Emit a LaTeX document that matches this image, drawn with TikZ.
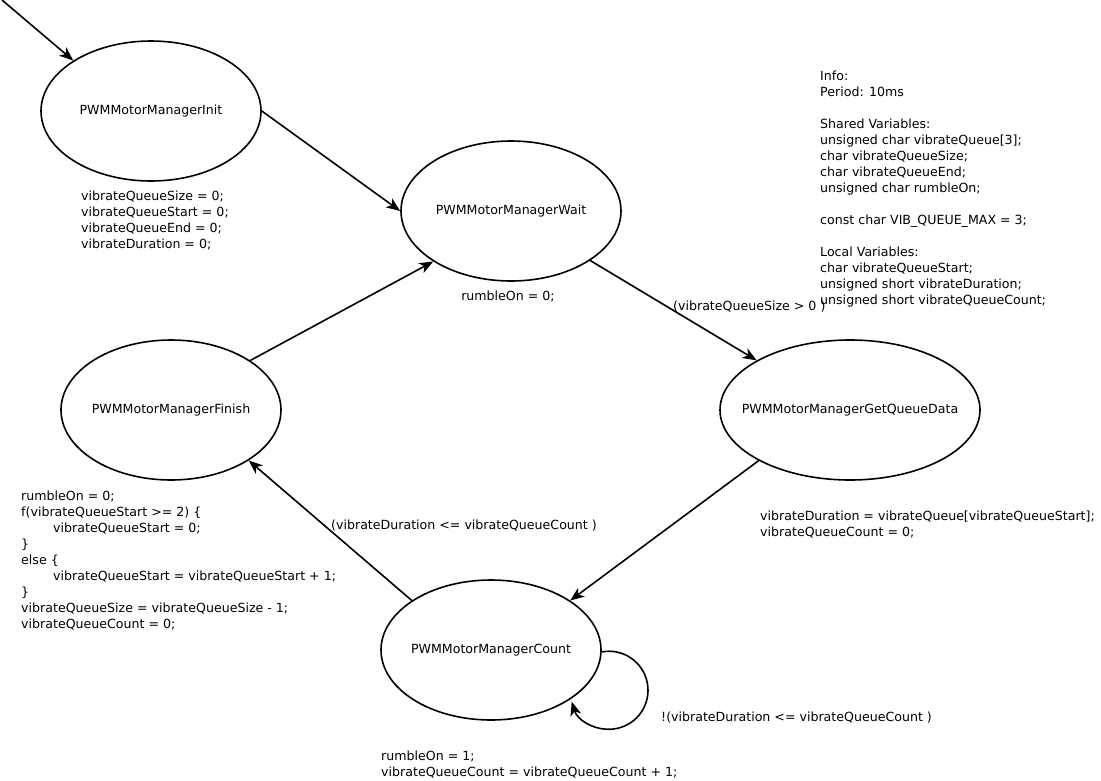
\documentclass[tikz,border=0pt]{standalone}
\usepackage{fontspec}
\setmainfont{DejaVu Sans}
\usetikzlibrary{arrows.meta,shapes.geometric}
\begin{document}
\begin{tikzpicture}[x=1pt,y=-1pt,
  every node/.style={font=\fontsize{12.6}{16}\selectfont},
  state/.style={draw,ellipse,line width=1.6pt,minimum width=220pt,minimum height=140pt,inner sep=0pt},
  edge/.style={line width=1.6pt,-{Stealth[length=14pt,width=11pt,inset=4pt]}},
  txt/.style={anchor=north west,inner sep=0pt,align=left}]
\useasboundingbox (0,0) rectangle (1101,780);
\node[state] (init) at (151,111) {\makebox[0pt]{PWMMotorManagerInit}};
\node[state] (wait) at (511,211) {\makebox[0pt]{PWMMotorManagerWait}};
\node[state,minimum width=260pt] (gqd) at (850,410) {\makebox[0pt]{PWMMotorManagerGetQueueData}};
\node[state] (finish) at (171,410) {\makebox[0pt]{PWMMotorManagerFinish}};
\node[state] (count) at (491,650) {\makebox[0pt]{PWMMotorManagerCount}};
\coordinate (start) at (2,0);

\draw[edge] (start) -- (init.147);
\draw[edge] (init.east) -- (wait.west);
\draw[edge] (wait.-32) -- (gqd.152);
\draw[edge] (gqd.209) -- (count.32);
\draw[edge] (count.148) -- (finish.-33);
\draw[edge] (finish.32) -- (wait.213);
\draw[edge] (count.-1) arc[start angle=-100.7,end angle=163,radius=39];

\node[txt] (tinit) at (81,191) {vibrateQueueSize = 0;\\vibrateQueueStart = 0;\\vibrateQueueEnd = 0;\\vibrateDuration = 0;};
\node[anchor=north,inner sep=0pt] (twait) at (508,291) {rumbleOn = 0;};
\node[txt] (tg1) at (673,301) {(vibrateQueueSize > 0 )};
\node[txt] (info) at (820,71) {Info:\\Period: 10ms\\[16pt]Shared Variables:\\unsigned char vibrateQueue[3];\\char vibrateQueueSize;\\char vibrateQueueEnd;\\unsigned char rumbleOn;\\[16pt]const char VIB\_QUEUE\_MAX = 3;\\[16pt]Local Variables:\\char vibrateQueueStart;\\unsigned short vibrateDuration;\\unsigned short vibrateQueueCount;};
\node[txt] (tgqd) at (760,511) {vibrateDuration = vibrateQueue[vibrateQueueStart];\\vibrateQueueCount = 0;};
\node[txt] (tg2) at (331,520) {(vibrateDuration <= vibrateQueueCount )};
\node[txt] (tfin) at (21,491) {rumbleOn = 0;\\f(vibrateQueueStart >= 2) \{\\\hspace*{32pt}vibrateQueueStart = 0;\\\}\\else \{\\\hspace*{32pt}vibrateQueueStart = vibrateQueueStart + 1;\\\}\\vibrateQueueSize = vibrateQueueSize - 1;\\vibrateQueueCount = 0;};
\node[txt] (tcount) at (381,751) {rumbleOn = 1;\\vibrateQueueCount = vibrateQueueCount + 1;};
\node[txt] (tg3) at (661,712) {!(vibrateDuration <= vibrateQueueCount )};
\end{tikzpicture}
\end{document}
